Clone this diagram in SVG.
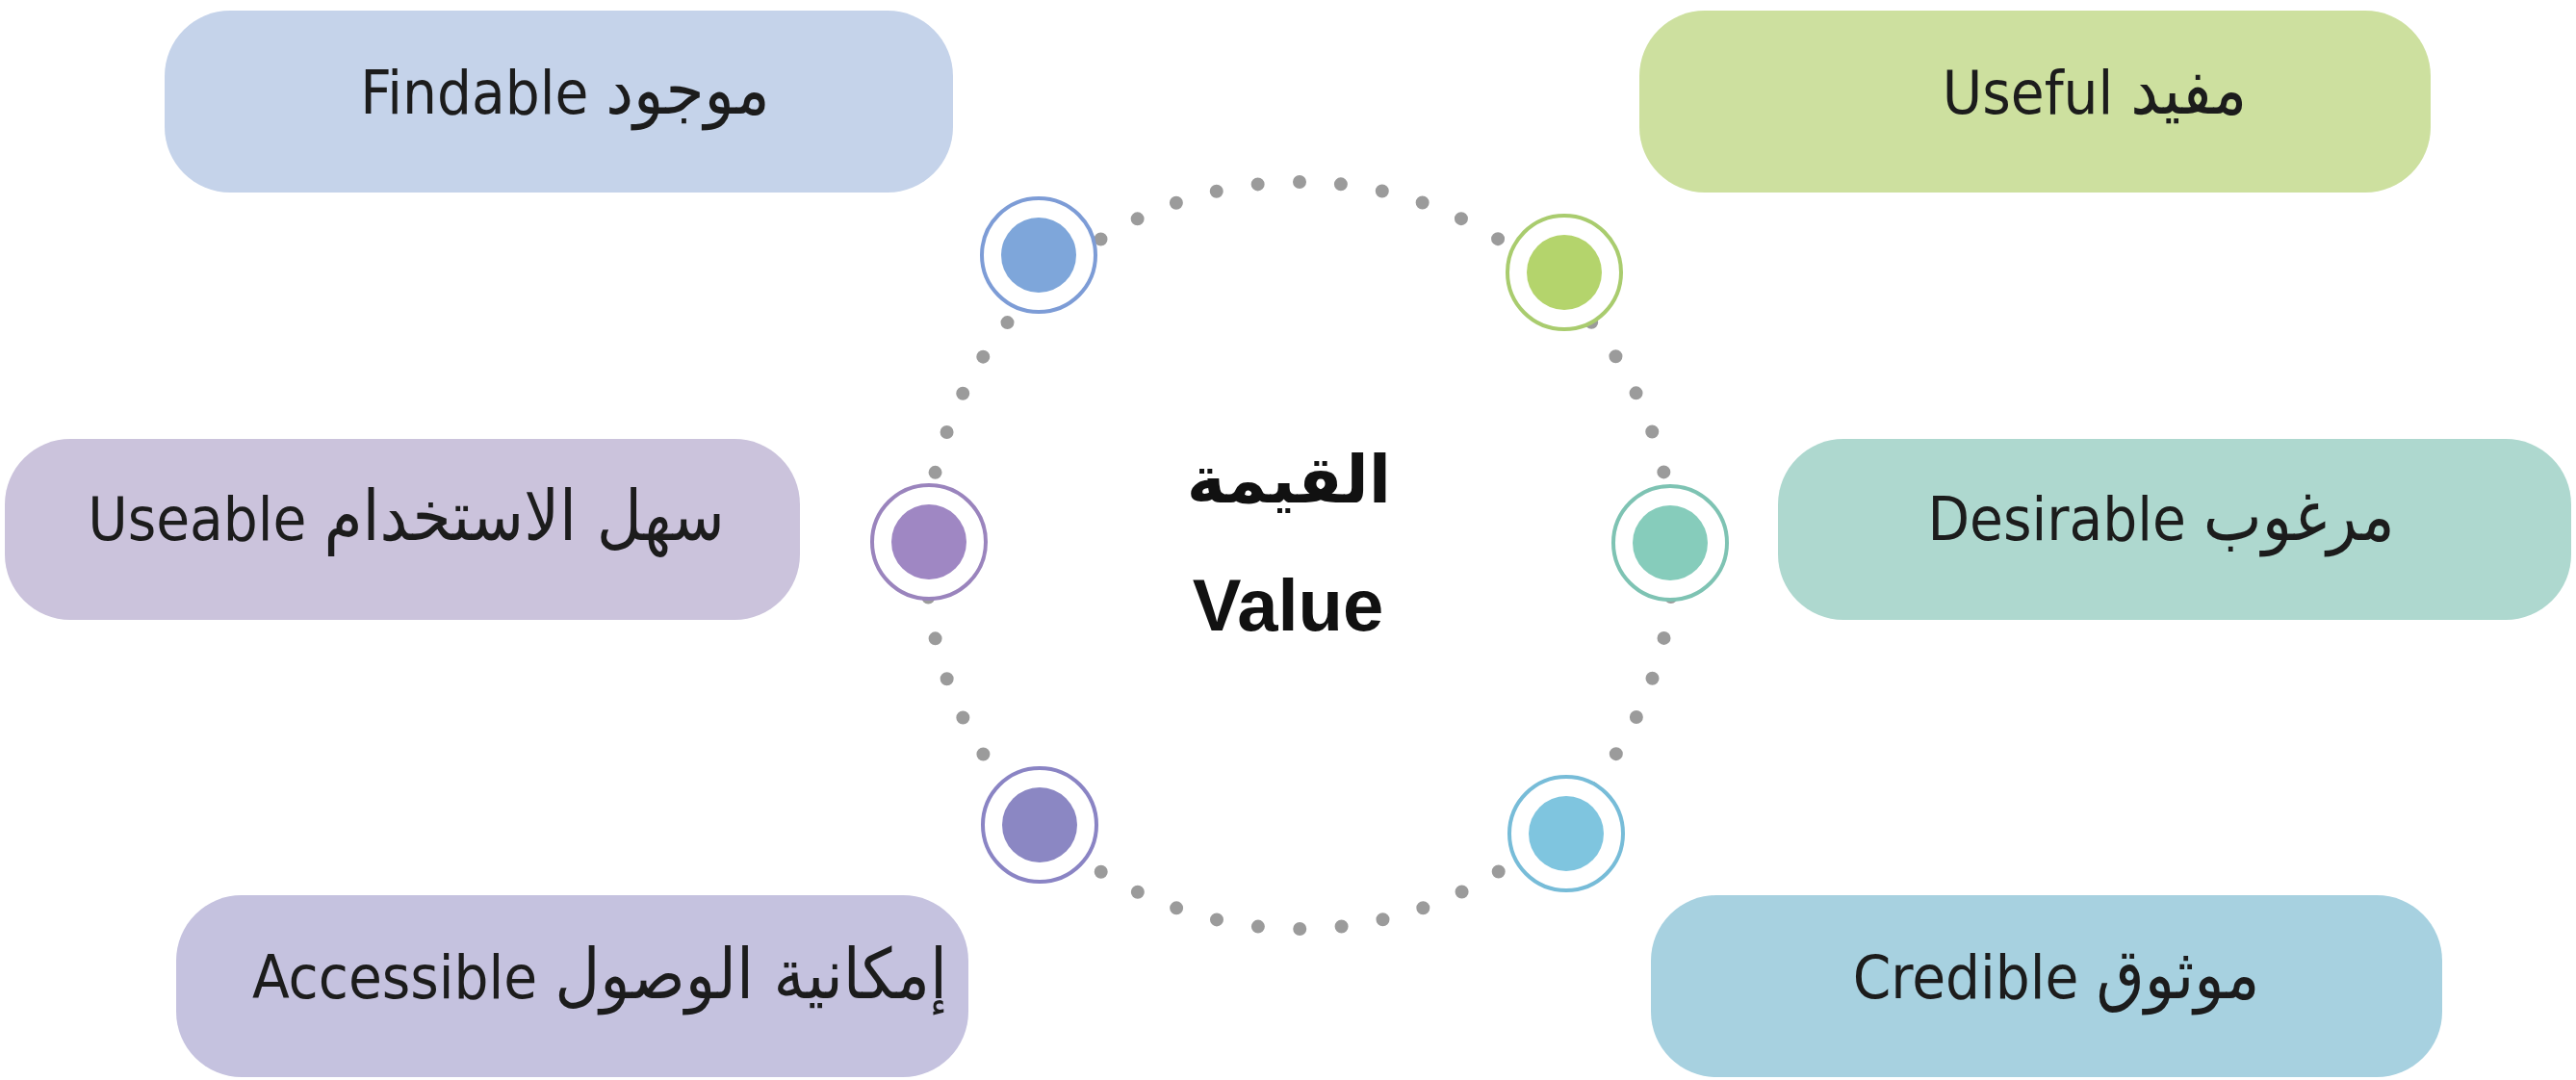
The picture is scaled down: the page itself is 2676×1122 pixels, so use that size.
<svg xmlns="http://www.w3.org/2000/svg" width="2676" height="1122" viewBox="0 0 2676 1122">
<style>
.box{stroke:none}
.ring{fill:#ffffff;stroke-width:4}
.lbl{font-family:"DejaVu Sans Condensed","DejaVu Sans",sans-serif;font-stretch:condensed;font-size:63px;fill:#1c1c1c;text-anchor:middle}
.a{font-size:72px}
.ar{font-family:"DejaVu Sans",sans-serif;font-weight:bold;font-size:68px;fill:#111111;text-anchor:middle}
.en{font-family:"Liberation Sans",Arial,sans-serif;font-weight:bold;font-size:76px;fill:#111111;text-anchor:middle}
.dots{fill:none;stroke:#9b9b9b;stroke-width:14;stroke-linecap:round;stroke-dasharray:0 43.534}
</style>
<rect width="2676" height="1122" fill="#ffffff"/>
<g id="connectors">
<path class="dots" d="M1350,189 A388,388 0 1,0 1350,965 A388,388 0 1,0 1350,189"/>
</g>
<g id="center">
<text class="ar" x="1339" y="522">القيمة</text>
<text class="en" x="1338" y="655">Value</text>
</g>
<g id="findable">
<rect class="box" x="171" y="11" width="819" height="189" rx="68" fill="#c5d3ea"/>
<text class="lbl" x="587" y="118">Findable <tspan class="a">موجود</tspan></text>
<circle class="ring" cx="1079" cy="265" r="59" stroke="#7d9cd6"/>
<circle cx="1079" cy="265" r="39" fill="#7ea6da"/>
</g>
<g id="useful">
<rect class="box" x="1703" y="11" width="822" height="189" rx="68" fill="#cde09f"/>
<text class="lbl" x="2176" y="118">Useful <tspan class="a">مفيد</tspan></text>
<circle class="ring" cx="1625" cy="283" r="59" stroke="#a9cc6e"/>
<circle cx="1625" cy="283" r="39" fill="#b4d46c"/>
</g>
<g id="useable">
<rect class="box" x="5" y="456" width="826" height="188" rx="68" fill="#cbc3dc"/>
<text class="lbl" x="422" y="561">Useable <tspan class="a">سهل الاستخدام</tspan></text>
<circle class="ring" cx="965" cy="563" r="59" stroke="#9a84bd"/>
<circle cx="965" cy="563" r="39" fill="#9f87c3"/>
</g>
<g id="desirable">
<rect class="box" x="1847" y="456" width="824" height="188" rx="68" fill="#aed8cf"/>
<text class="lbl" x="2245" y="561">Desirable <tspan class="a">مرغوب</tspan></text>
<circle class="ring" cx="1735" cy="564" r="59" stroke="#7ec3b3"/>
<circle cx="1735" cy="564" r="39" fill="#86ccbb"/>
</g>
<g id="accessible">
<rect class="box" x="183" y="930" width="823" height="189" rx="68" fill="#c5c2df"/>
<text class="lbl" x="623" y="1037">Accessible <tspan class="a">إمكانية الوصول</tspan></text>
<circle class="ring" cx="1080" cy="857" r="59" stroke="#8a84c4"/>
<circle cx="1080" cy="857" r="39" fill="#8b87c3"/>
</g>
<g id="credible">
<rect class="box" x="1715" y="930" width="822" height="189" rx="68" fill="#a7d1e0"/>
<text class="lbl" x="2136" y="1037">Credible <tspan class="a">موثوق</tspan></text>
<circle class="ring" cx="1627" cy="866" r="59" stroke="#77bcd8"/>
<circle cx="1627" cy="866" r="39" fill="#7fc5df"/>
</g>
</svg>
